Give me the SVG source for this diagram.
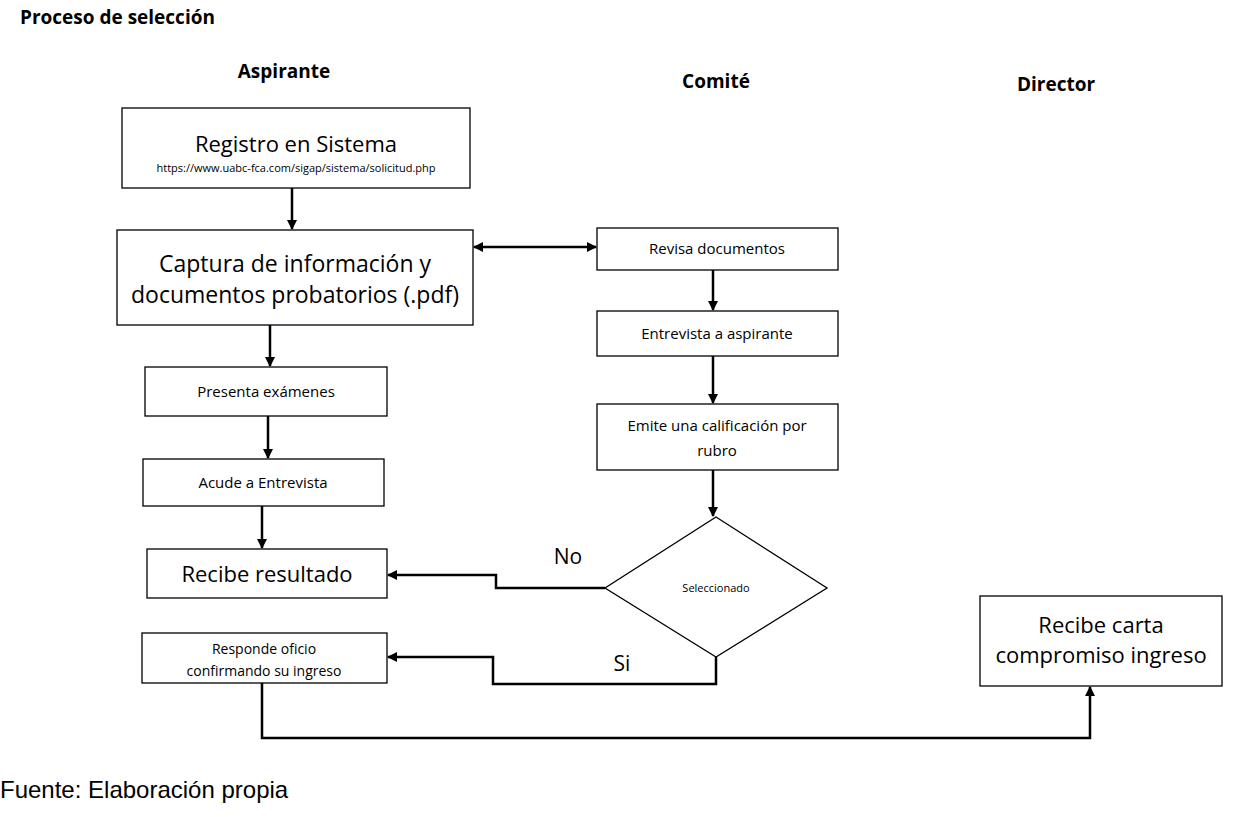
<svg xmlns="http://www.w3.org/2000/svg" width="1234" height="817" viewBox="0 0 1234 817">
<style>
.b{fill:#fff;stroke:#000;stroke-width:1.3}
.t{font-family:"Open Sans","Liberation Sans",sans-serif;fill:#000;text-anchor:middle}
.h{font-weight:bold;font-size:19px}
.c{fill:none;stroke:#000;stroke-width:2.5}
</style>
<defs><marker id="a" viewBox="0 0 10 10" refX="9" refY="5" markerWidth="4" markerHeight="4" orient="auto-start-reverse"><path d="M0,0L10,5L0,10z"/></marker></defs>
<rect width="1234" height="817" fill="#fff"/>
<text x="20" y="24" class="t h" style="text-anchor:start">Proceso de selección</text>
<text x="284" y="78" class="t h">Aspirante</text>
<text x="716" y="88" class="t h">Comité</text>
<text x="1056" y="91" class="t h">Director</text>
<g id="n1"><rect class="b" x="122" y="108" width="348" height="80"/><text x="296" y="152" class="t" font-size="22">Registro en Sistema</text><text x="296" y="172" class="t" font-size="11">https://www.uabc-fca.com/sigap/sistema/solicitud.php</text></g>
<g id="n2"><rect class="b" x="117" y="230" width="356" height="95"/><text x="295" y="272" class="t" font-size="23">Captura de información y</text><text x="295" y="303" class="t" font-size="23">documentos probatorios (.pdf)</text></g>
<g id="n3"><rect class="b" x="597" y="228" width="241" height="42"/><text x="717" y="254" class="t" font-size="15">Revisa documentos</text></g>
<g id="n4"><rect class="b" x="597" y="311" width="241" height="45"/><text x="717" y="339" class="t" font-size="15">Entrevista a aspirante</text></g>
<g id="n5"><rect class="b" x="597" y="404" width="241" height="66"/><text x="717" y="431" class="t" font-size="15">Emite una calificación por</text><text x="717" y="456" class="t" font-size="15">rubro</text></g>
<g id="n6"><path class="b" d="M716,517L827,588L716,657L605,588z"/><text x="716" y="592" class="t" font-size="11">Seleccionado</text></g>
<g id="n7"><rect class="b" x="145" y="367" width="242" height="49"/><text x="266" y="397" class="t" font-size="15">Presenta exámenes</text></g>
<g id="n8"><rect class="b" x="143" y="459" width="241" height="47"/><text x="263" y="488" class="t" font-size="15">Acude a Entrevista</text></g>
<g id="n9"><rect class="b" x="147" y="549" width="240" height="49"/><text x="267" y="582" class="t" font-size="22">Recibe resultado</text></g>
<g id="n10"><rect class="b" x="142" y="633" width="245" height="50"/><text x="264" y="654" class="t" font-size="14">Responde oficio</text><text x="264" y="676" class="t" font-size="14">confirmando su ingreso</text></g>
<g id="n11"><rect class="b" x="980" y="596" width="242" height="90"/><text x="1101" y="633" class="t" font-size="22">Recibe carta</text><text x="1101" y="663" class="t" font-size="22">compromiso ingreso</text></g>
<g id="connectors">
<path class="c" d="M292,188V229" marker-end="url(#a)"/>
<path class="c" d="M474,247H596" marker-start="url(#a)" marker-end="url(#a)"/>
<path class="c" d="M713,270V310" marker-end="url(#a)"/>
<path class="c" d="M713,356V403" marker-end="url(#a)"/>
<path class="c" d="M713,470V516" marker-end="url(#a)"/>
<path class="c" d="M270,325V366" marker-end="url(#a)"/>
<path class="c" d="M268,416V458" marker-end="url(#a)"/>
<path class="c" d="M262,506V548" marker-end="url(#a)"/>
<path class="c" d="M605,588H496V575H388" marker-end="url(#a)"/>
<path class="c" d="M716,657V684H493V657H388" marker-end="url(#a)"/>
<path class="c" d="M262,683V738H1090V687" marker-end="url(#a)"/>
</g>
<text x="568" y="564" class="t" font-size="21">No</text>
<text x="622" y="671" class="t" font-size="21">Si</text>
<text x="0" y="798" font-family="Liberation Sans,Arial,sans-serif" font-size="24">Fuente: Elaboración propia</text>
</svg>
